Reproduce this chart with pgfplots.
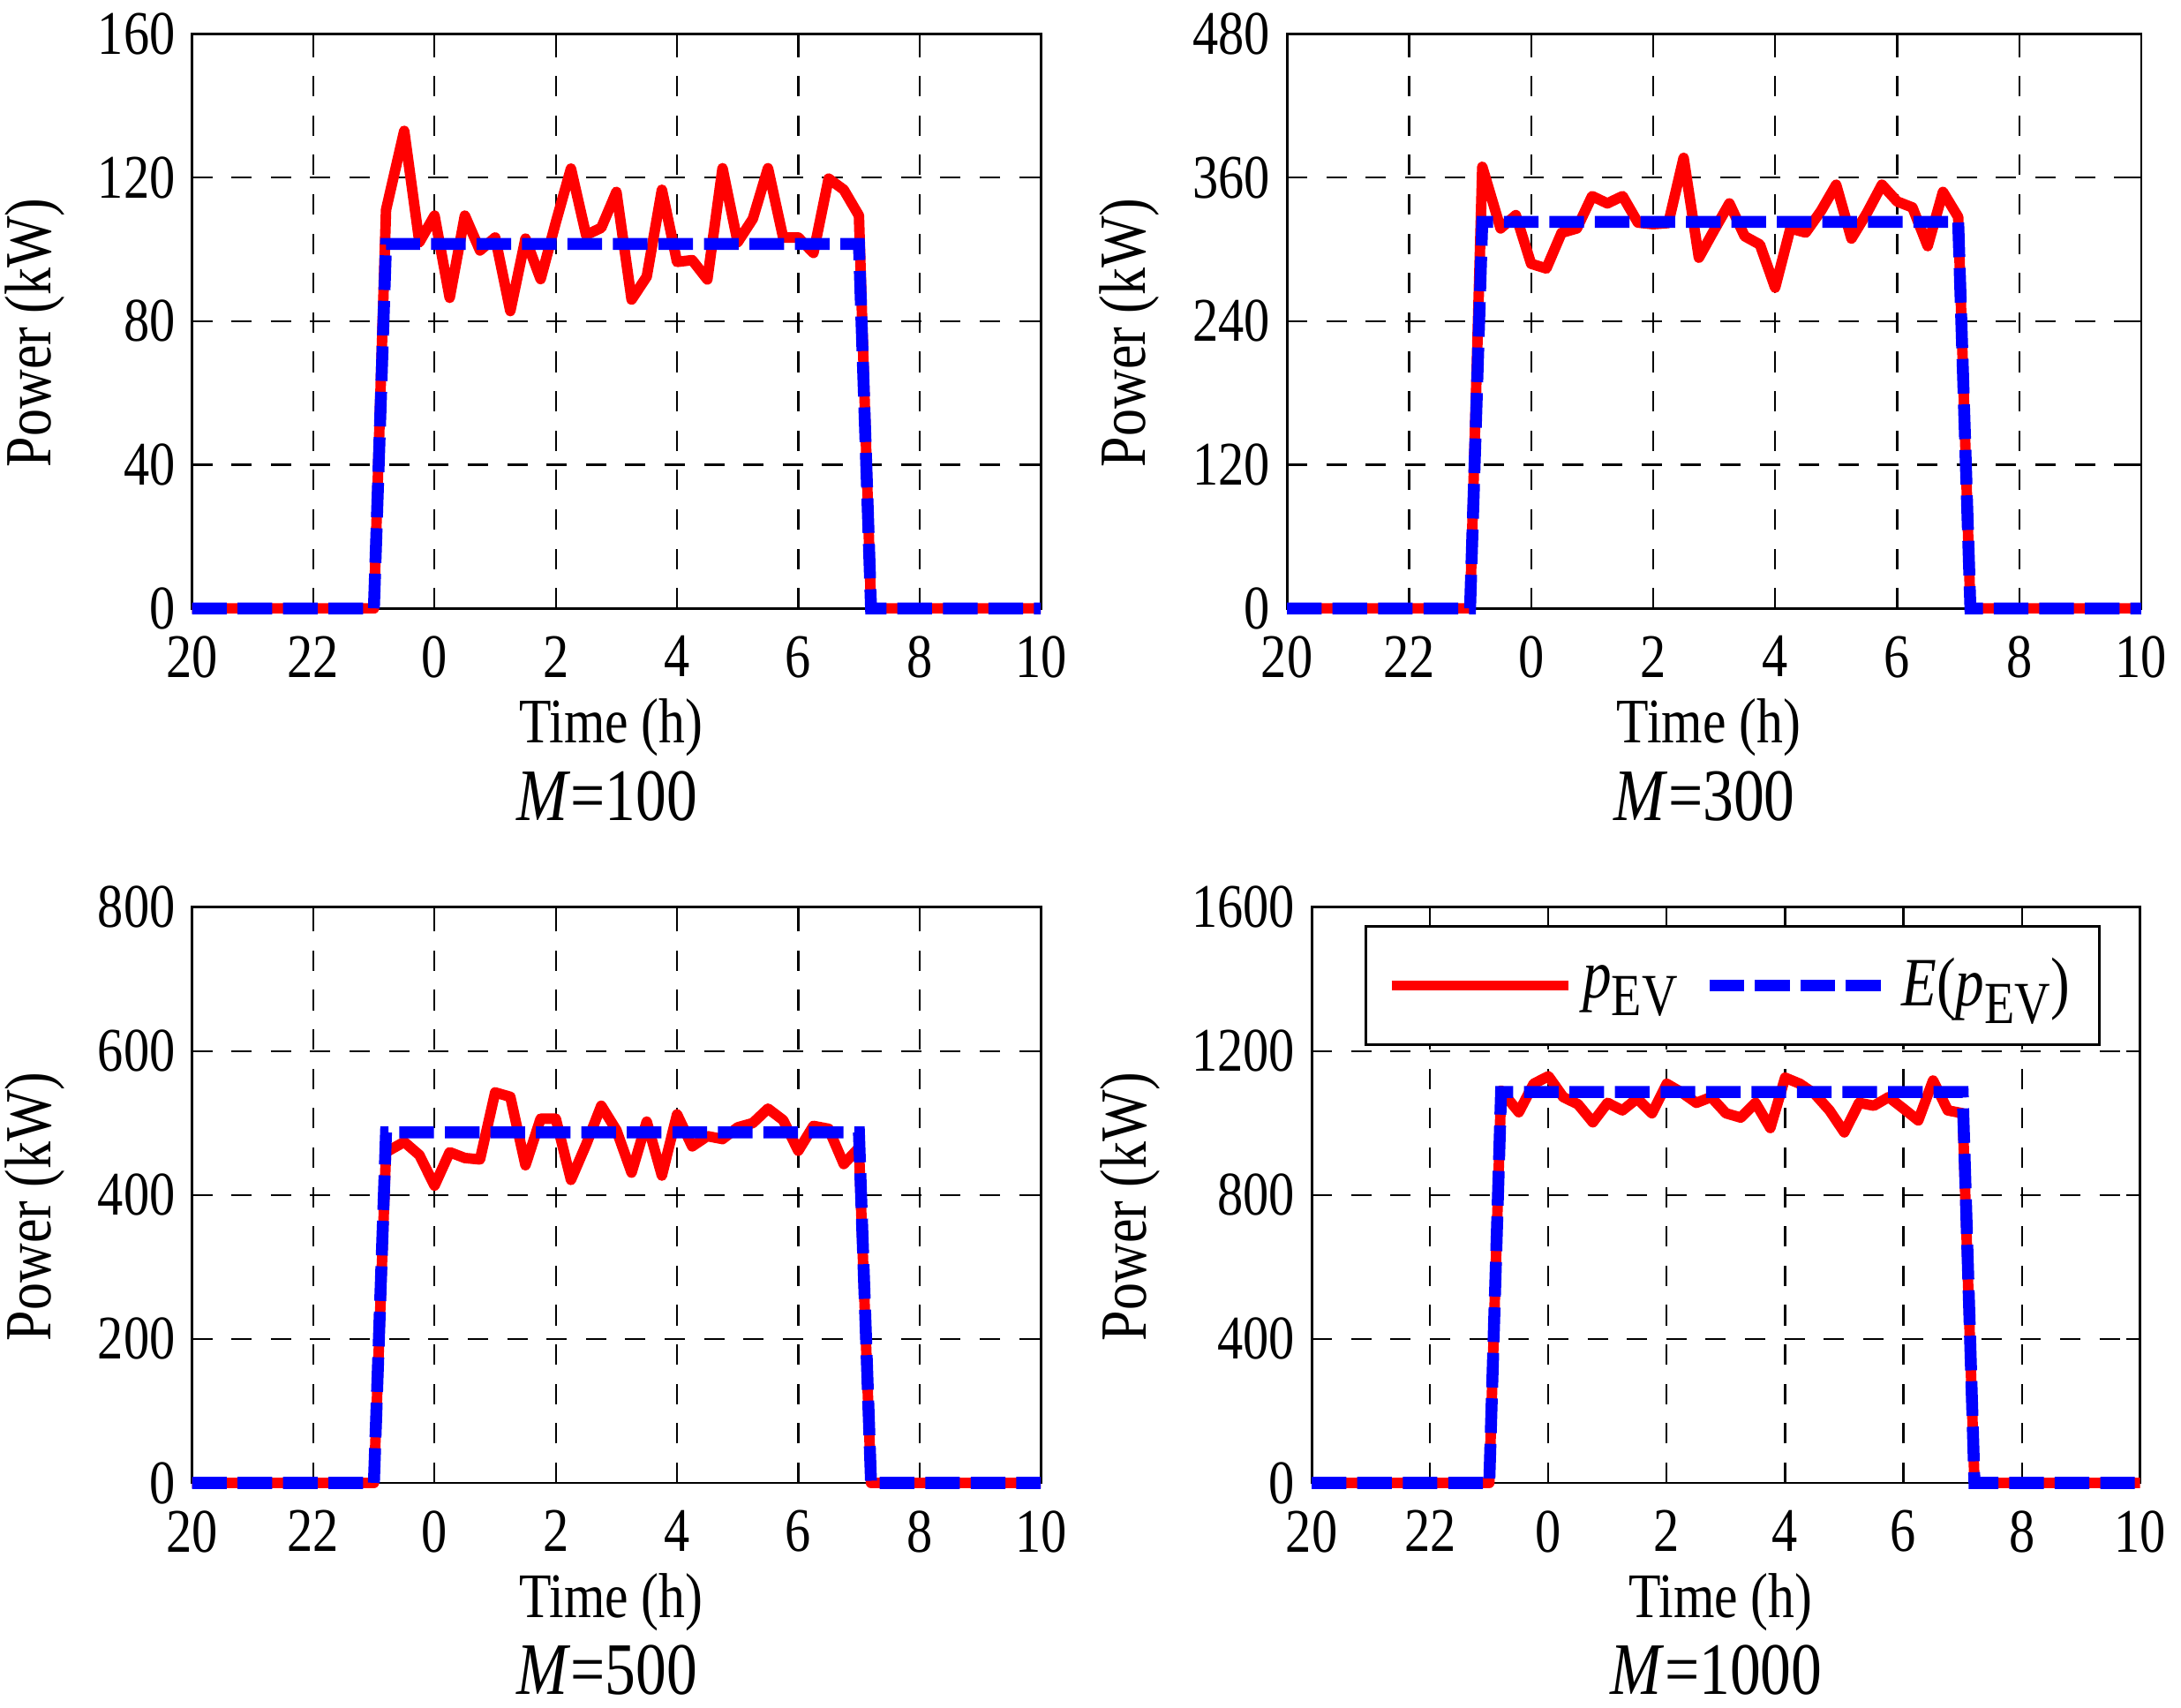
\documentclass[border=0pt]{standalone}
\usepackage{fontspec}
\setmainfont{Liberation Serif}[FakeStretch=0.83]
\usepackage{pgfplots}
\pgfplotsset{compat=1.18}

\definecolor{pred}{RGB}{255,0,0}
\definecolor{pblue}{RGB}{0,0,255}
\newcommand{\pev}{\textit{p}\raisebox{-0.55ex}{\fontsize{12.5}{13}\selectfont EV}}

\pgfplotsset{
  evpanel/.style={
    scale only axis,
    clip=false,
    xmin=20, xmax=34, ymin=0,
    xtick={20,22,...,34},
    xticklabels={20,22,0,2,4,6,8,10},
    grid=major,
    major grid style={black, line width=0.4pt, dash pattern=on 0.15cm off 0.14cm},
    axis line style={line width=0.5pt},
    tick style={black, line width=0.4pt},
    major tick length=0.1cm,
    /pgf/number format/assume math mode=true,
    /pgf/number format/1000 sep={},
    ticklabel style={font=\fontsize{13}{15}\selectfont},
    xticklabel style={yshift=-0.08cm},
    label style={font=\fontsize{13.3}{15}\selectfont},
    xlabel={Time (h)},
    ylabel={Power (kW)},
    ylabel style={font=\fontsize{13.8}{15}\selectfont},
    xlabel style={at={(axis description cs:0.5,0)}, anchor=center, yshift=-0.88cm, xshift=-0.04cm},
    every axis title shift=0pt,
    title style={at={(axis description cs:0.5,0)}, anchor=center, yshift=-1.38cm, xshift=-0.07cm,
                 font=\fontsize{15.5}{17}\selectfont},
  },
  pev/.style={pred, line width=2.2pt, line join=round},
  epev/.style={pblue, line width=2.5pt, dash pattern=on 0.255cm off 0.08cm},
}

\begin{document}
\begin{tikzpicture}
\path[use as bounding box] (0,0) rectangle (16.06,12.57);

% M = 100
\begin{axis}[evpanel, at={(1.414cm,8.09cm)}, anchor=south west,
  width=6.25cm, height=4.23cm, ymax=160, ytick={0,40,...,160},
  ylabel style={at={(axis description cs:-0.185,0.48)}, anchor=center},
  title={\textit{M}=100}]
\addplot[pev] coordinates {(20,0) (23,0) (23.2,111) (23.5,133) (23.75,102) (24,109.4)
  (24.25,86.5) (24.5,109.4) (24.75,99.7) (25,103.3) (25.25,82.8) (25.5,103) (25.75,91.7)
  (26,107.5) (26.25,122.5) (26.5,104) (26.75,106) (27,116) (27.25,86) (27.5,92.4)
  (27.75,116.6) (28,96.5) (28.25,97) (28.5,91.6) (28.75,122.6) (29,102) (29.25,108.5)
  (29.5,122.6) (29.75,103.3) (30,103.3) (30.25,99) (30.5,119.7) (30.75,116.6) (31,109.4)
  (31.2,0) (34,0)};
\addplot[epev] coordinates {(20,0) (23,0) (23.2,101.5) (31,101.5) (31.2,0) (34,0)};
\end{axis}

% M = 300
\begin{axis}[evpanel, at={(9.477cm,8.09cm)}, anchor=south west,
  width=6.29cm, height=4.23cm, ymax=480, ytick={0,120,...,480},
  ylabel style={at={(axis description cs:-0.185,0.48)}, anchor=center},
  title={\textit{M}=300}]
\addplot[pev] coordinates {(20,0) (23,0) (23.2,369) (23.5,317.5) (23.75,328.6) (24,288)
  (24.25,284) (24.5,313.8) (24.75,317.5) (25,344.5) (25.25,338.4) (25.5,344.5) (25.75,322.4)
  (26,321) (26.25,322) (26.5,376.5) (26.75,293) (27,316) (27.25,338.4) (27.5,311)
  (27.75,304) (28,268) (28.25,317.5) (28.5,314) (28.75,332) (29,354) (29.25,309)
  (29.5,330) (29.75,354) (30,340) (30.25,335) (30.5,302.7) (30.75,348) (31,327)
  (31.2,0) (34,0)};
\addplot[epev] coordinates {(20,0) (23,0) (23.2,323) (31,323) (31.2,0) (34,0)};
\end{axis}

% M = 500
\begin{axis}[evpanel, at={(1.414cm,1.651cm)}, anchor=south west,
  width=6.25cm, height=4.24cm, ymax=800, ytick={0,200,...,800},
  ylabel style={at={(axis description cs:-0.185,0.48)}, anchor=center},
  title={\textit{M}=500}]
\addplot[pev] coordinates {(20,0) (23,0) (23.2,459.5) (23.5,473.7) (23.75,455.5) (24,413)
  (24.25,459.5) (24.5,451.4) (24.75,449.4) (25,542.5) (25.25,536.4) (25.5,441.3) (25.75,506)
  (26,506) (26.25,421) (26.5,470) (26.75,524) (27,490) (27.25,431) (27.5,502)
  (27.75,427) (28,512) (28.25,467.6) (28.5,481.8) (28.75,477.7) (29,494) (29.25,500)
  (29.5,520) (29.75,504) (30,461.5) (30.25,496) (30.5,492) (30.75,443) (31,465.6)
  (31.2,0) (34,0)};
\addplot[epev] coordinates {(20,0) (23,0) (23.2,487) (31,487) (31.2,0) (34,0)};
\end{axis}

% M = 1000
\begin{axis}[evpanel, at={(9.659cm,1.651cm)}, anchor=south west,
  width=6.10cm, height=4.24cm, ymax=1600, ytick={0,400,...,1600},
  ylabel style={at={(axis description cs:-0.219,0.48)}, anchor=center},
  title={\textit{M}=1000},
  legend columns=2,
  legend style={at={(axis description cs:0.064,0.968)}, anchor=north west,
    draw=black, line width=0.5pt, fill=white,
    font=\fontsize{14.5}{16}\selectfont,
    inner xsep=0.15cm, inner ysep=0.16cm,
    /tikz/every even column/.append style={column sep=0.12cm}},
  legend image code/.code={\draw[#1] (0cm,0cm) -- (1.3cm,0cm);}]
\addplot[pev] coordinates {(20,0) (23,0) (23.2,1090) (23.5,1030) (23.75,1109) (24,1130)
  (24.25,1072) (24.5,1052) (24.75,1002) (25,1056) (25.25,1035) (25.5,1068) (25.75,1027)
  (26,1109) (26.25,1085) (26.5,1056) (26.75,1072) (27,1027) (27.25,1015) (27.5,1056)
  (27.75,986) (28,1126) (28.25,1109) (28.5,1081) (28.75,1035) (29,974) (29.25,1056)
  (29.5,1048) (29.75,1072) (30,1040) (30.25,1007) (30.5,1118) (30.75,1035) (31,1027)
  (31.2,0) (34,0)};
\addlegendentry{\pev}
\addplot[epev] coordinates {(20,0) (23,0) (23.2,1086) (31,1086) (31.2,0) (34,0)};
\addlegendentry{\textit{E}(\pev)}
\end{axis}
\end{tikzpicture}
\end{document}
